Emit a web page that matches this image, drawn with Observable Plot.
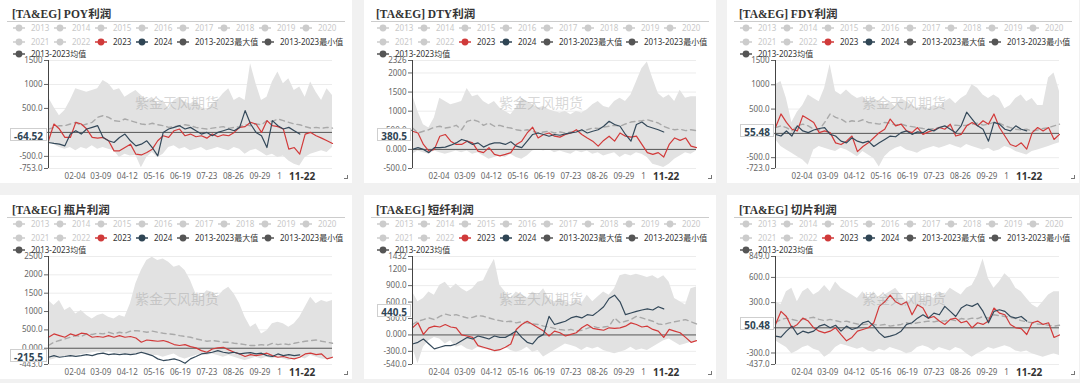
<!DOCTYPE html>
<html><head><meta charset="utf-8">
<script src="https://cdn.jsdelivr.net/npm/d3@7"></script>
<script src="https://cdn.jsdelivr.net/npm/@observablehq/plot@0.6"></script>
<style>
html,body{margin:0;padding:0;}
body{background:#f1f1f1;width:1080px;height:383px;overflow:hidden;position:relative;font-family:"Noto Sans","Noto Sans CJK SC",sans-serif;}
.panel{position:absolute;background:#fff;width:352px;height:184px;overflow:hidden;}
.title{position:absolute;left:12px;top:6px;font:bold 11.5px "Liberation Serif","Noto Sans CJK SC",serif;color:#333;white-space:nowrap;}
.uline{position:absolute;left:7px;width:338px;top:22px;border-top:1.5px solid #ccc;}
.lrow{position:absolute;left:13px;height:10px;display:flex;align-items:center;white-space:nowrap;z-index:3;font-size:8px;line-height:10px;}
.item{display:inline-flex;align-items:center;flex:none;}
.item svg{margin-right:6px;flex:none;}
.chart{position:absolute;left:0;top:49px;}
.wm{position:absolute;left:135px;top:93px;font-size:14px;color:rgba(150,150,150,0.38);white-space:nowrap;z-index:2;}
.ptr{position:absolute;height:11px;line-height:11px;padding:0 3px;background:#fff;border:1px solid #cfcfcf;font:bold 10px "Noto Sans",sans-serif;color:#2f4554;z-index:4;}
.corner{position:absolute;right:4px;bottom:4px;width:3px;height:3px;border-right:1px solid #777;border-bottom:1px solid #777;}
</style>
</head><body>
<script>
const days = [0,7,14,21,28,35,42,49,56,63,70,77,84,91,98,105,112,119,126,133,140,147,154,161,168,175,182,189,196,203,210,217,224,231,238,245,252,259,266,273,280,287,294,301,308,315,322,329,336,343,350,357,364];
const xTicks = [34,67,101,135,169,203,237,271,296];
const xTickLabels = ["02-04","03-09","04-12","05-16","06-19","07-23","08-26","09-29","1"];
const xBold = 325;
const xBoldLabel = "11-22";

// POY
const poyMax = [730,525,350,455,665,910,875,840,875,910,1085,1015,875,910,735,805,875,770,665,735,595,665,490,665,735,630,595,665,525,455,595,665,805,910,665,735,665,1430,1015,665,735,1050,1260,1015,1120,875,945,735,1050,840,665,910,770];
const poyMin = [-200,-250,-315,-350,-315,-385,-315,-350,-280,-350,-315,-350,-385,-525,-455,-490,-480,-735,-525,-420,-525,-455,-315,-280,-350,-315,-385,-350,-315,-385,-350,-315,-350,-385,-315,-350,-455,-385,-350,-420,-490,-455,-525,-490,-595,-665,-700,-525,-455,-420,-385,-420,-315];
const poyMean = [70,105,140,140,175,210,140,175,210,315,350,315,245,230,280,245,210,175,160,190,160,140,105,120,140,160,140,105,85,70,90,105,120,85,105,120,160,140,175,160,245,230,280,245,210,175,160,120,90,105,85,105,90];
const poy2023 = [-175,175,70,-105,-105,210,175,70,-105,-120,-105,-175,-385,-385,-315,-245,-455,-470,-420,-350,-175,-70,-105,35,70,-70,-35,-90,-70,-120,-35,-90,-50,-70,0,105,120,210,175,0,245,140,120,70,-350,-315,-455,-35,0,-70,-120,-175,-230];
const poy2024 = [-210,-230,-245,-280,-35,35,-35,70,105,140,-105,-175,-210,-105,-35,-175,-280,-245,-175,-315,-490,0,70,105,140,70,105,35,-35,0,-70,0,35,70,35,105,455,175,0,-70,-315,245,140,70,105,35,-35];
const poyTicks = [-753,-500,0,500,1000,1500];
const poyTickLabels = ["-753.0","-500.0","0.000","500.0","1000","1500"];

// DTY
const dtyMax = [1420,990,645,560,820,1335,1250,1165,1205,1250,1595,1380,1420,1250,1165,1250,1080,990,905,1080,1335,1250,1165,1080,1120,1035,990,950,990,905,990,950,1035,1165,1250,1120,1080,1250,1335,1250,1420,1765,2110,2285,1855,1465,1335,1420,1250,1550,1335,1380,1380];
const dtyMin = [-130,-45,-85,-130,-45,-85,-130,-85,-45,-85,-45,-130,-85,-170,-260,-215,-170,-215,-130,-215,-260,-170,-45,0,-45,0,-85,-45,-85,-130,-45,-85,-45,-130,-85,-170,-130,-85,-215,-130,-170,-85,-130,-215,-390,-430,-475,-390,-260,-170,-85,-130,-45];
const dtyMean = [560,430,475,515,580,605,560,580,630,515,735,775,735,630,690,605,630,580,560,515,490,515,475,430,455,475,430,455,430,455,475,490,515,560,545,580,605,630,605,665,715,735,750,775,735,690,605,545,515,530,490,515,490];
const dty2023 = [475,430,130,-45,0,345,390,215,130,130,215,170,-45,-85,45,-130,-170,-130,-85,130,215,430,580,300,390,430,345,320,390,430,515,390,300,215,85,235,345,215,430,345,320,345,130,-85,-130,-85,-200,130,300,235,300,85,45];
const dty2024 = [0,45,0,-85,45,45,60,110,170,260,215,130,170,60,130,170,170,130,200,85,45,215,390,430,390,345,390,370,405,430,455,515,430,475,515,605,735,650,605,390,215,650,715,605,560,515,455];
const dtyTicks = [-500,0,500,1000,1500,2000,2326];
const dtyTickLabels = ["-500.0","0.000","500.0","1000","1500","2000","2326"];

// FDY
const fdyMax = [1000,1070,720,225,435,575,790,720,650,930,1420,860,790,895,790,720,755,650,720,650,575,650,540,720,650,575,505,575,505,575,540,650,720,610,720,790,1000,930,790,720,790,720,505,575,720,790,650,720,575,575,1140,1245,860];
const fdyMin = [-125,-270,-340,-410,-480,-550,-655,-340,-270,-305,-340,-375,-305,-340,-410,-480,-375,-445,-515,-690,-480,-375,-305,-270,-340,-375,-410,-340,-305,-270,-305,-270,-230,-270,-305,-230,-270,-305,-340,-305,-375,-340,-270,-305,-375,-410,-445,-375,-340,-305,-270,-230,-195];
const fdyMean = [120,155,120,50,155,190,155,85,70,225,400,330,295,225,260,240,280,225,210,190,225,210,170,190,155,140,120,100,85,100,120,135,155,170,155,170,190,210,170,190,225,210,155,120,85,70,85,50,70,100,120,155,190];
const fdy2023 = [120,400,225,85,50,365,295,225,15,50,15,-195,-230,-160,-55,-375,-270,-195,-90,15,85,295,155,190,50,15,120,-20,30,70,120,85,190,-55,-20,155,225,155,260,190,400,120,-55,-230,-270,-195,-325,15,120,50,120,-125,-20];
const fdy2024 = [-20,-55,50,-55,155,50,15,70,100,120,-20,-55,-160,-195,-90,-160,-195,-160,-270,-195,-125,-55,-70,15,50,-20,30,15,85,50,120,155,85,15,155,435,295,155,85,-160,225,190,85,50,155,85,50];
const fdyTicks = [-723,-500,0,500,1000,1500];
const fdyTickLabels = ["-723.0","-500.0","0.000","500.0","1000","1500"];

// 瓶片
const botMax = [1300,1165,1300,1030,1120,935,1030,890,800,890,935,845,800,890,845,1210,1755,2120,2390,2480,2390,2435,2345,2210,2255,2120,1845,1480,1390,1570,1525,1390,1570,1665,1480,1210,845,575,665,390,480,665,710,665,575,665,845,1120,1390,1210,1300,1255,1300];
const botMin = [-335,-300,-250,-220,-250,-200,-180,-150,-120,-100,-120,-100,-130,-150,-150,-170,-150,-160,-180,-200,-200,-245,-200,-155,-245,-290,-245,-200,-155,-200,-155,-200,-245,-200,-245,-290,-335,-290,-245,-290,-245,-290,-245,-290,-335,-290,-245,-290,-200,-245,-290,-310,-290];
const botMean = [75,165,210,255,300,345,320,390,375,410,390,435,390,435,410,465,480,465,435,465,435,410,390,375,345,320,300,255,225,190,210,190,165,165,135,120,100,75,75,100,75,135,100,120,100,135,165,190,210,225,190,165,135];
const bot2023 = [300,390,345,300,390,345,410,390,300,320,300,345,300,345,300,320,280,165,225,210,190,210,165,100,75,100,45,10,-65,-110,-20,10,25,-45,-110,-155,-225,-175,-200,-175,-135,-200,-245,-225,-265,-290,-245,-155,-135,-175,-155,-290,-245];
const bot2024 = [-245,-200,-245,-225,-200,-220,-200,-175,-200,-155,-135,-175,-155,-175,-155,-175,-155,-110,-155,-200,-290,-335,-315,-290,-335,-410,-290,-225,-155,-135,-110,-65,-110,-135,-110,-155,-135,-120,-155,-135,-200,-225,-155,-200,-175,-200,-180];
const botTicks = [-443,0,500,1000,1500,2000,2500];
const botTickLabels = ["-443.0","0.000","500.0","1000","1500","2000","2500"];

// 短纤
const psfMax = [785,605,665,785,725,905,960,845,930,845,785,845,960,990,1200,1380,905,785,665,785,725,665,785,725,845,665,605,665,605,545,665,575,725,605,695,785,725,845,1080,1110,1080,1110,1080,1050,1080,1020,1080,960,665,605,545,845,875];
const psfMin = [-225,-525,-225,-105,-45,-75,-165,-105,-225,-195,-255,-285,-225,-260,-255,-320,-300,-225,-285,-315,-285,-225,-315,-285,-405,-345,-285,-225,-165,-195,-225,-285,-225,-255,-225,-285,-315,-345,-315,-285,-225,-285,-255,-285,-225,-165,-105,-75,-135,-195,-165,-135,-105];
const psfMean = [190,250,280,310,280,340,380,355,370,340,310,320,355,340,310,280,260,240,250,220,240,220,200,190,160,145,120,100,85,100,70,85,120,160,130,145,160,310,220,250,280,340,310,280,250,200,190,220,240,260,280,240,200];
const psf2023 = [130,220,10,130,160,145,190,145,130,0,-20,-45,-195,-225,-255,-285,-270,-225,-165,100,190,250,190,130,70,-20,70,40,-20,10,40,130,190,120,100,85,130,120,130,160,220,190,145,160,100,70,-45,100,70,40,-45,-135,-105];
const psf2024 = [-165,-135,-75,-165,-255,-225,-195,-195,-165,-105,-45,-75,-20,-45,-75,-20,-45,-45,10,70,-45,-135,-165,-45,10,340,190,220,250,310,340,310,370,355,430,515,665,725,605,370,400,430,455,475,455,515,475];
const psfTicks = [-540,-300,0,300,600,900,1200,1432];
const psfTickLabels = ["-540.0","-300.0","0.000","300.0","600.0","900.0","1200","1432"];

// 切片
const chipMax = [310,275,430,470,310,430,470,390,430,505,430,545,470,430,390,350,430,350,430,350,390,430,470,390,310,350,430,350,390,350,430,390,470,430,390,470,505,625,820,585,470,545,645,585,470,430,350,275,235,310,390,430,430];
const chipMin = [-155,-195,-235,-310,-275,-235,-215,-255,-275,-350,-310,-235,-195,-215,-235,-255,-235,-275,-290,-255,-275,-235,-255,-275,-310,-290,-235,-215,-235,-275,-235,-255,-275,-235,-255,-310,-350,-310,-275,-235,-255,-235,-215,-235,-275,-290,-275,-310,-330,-350,-330,-310,-330];
const chipMean = [60,100,115,100,85,100,115,125,100,85,100,85,70,80,60,45,40,45,40,30,40,20,30,40,60,45,60,70,80,70,85,80,100,85,110,100,115,110,135,115,155,145,135,125,110,85,70,60,45,40,30,20,30];
const chip2023 = [40,195,135,0,40,115,80,0,-40,-60,-40,0,-80,-155,-115,-40,-20,0,60,255,310,390,310,275,310,155,275,235,115,135,80,40,100,115,60,80,0,60,40,80,235,175,155,40,0,-10,-80,60,80,40,60,-115,-85];
const chip2024 = [-100,-110,-40,20,-80,-40,-60,-40,20,40,0,30,-40,20,-20,0,60,80,20,-60,-115,-100,-80,-40,40,60,115,155,115,175,155,255,195,135,235,275,255,290,195,60,195,215,195,135,115,135,80];
const chipTicks = [-437,-300,0,300,600,849];
const chipTickLabels = ["-437.0","-300.0","0.000","300.0","600.0","849.0"];

const titles = ["[TA&EG] POY利润","[TA&EG] DTY利润","[TA&EG] FDY利润","[TA&EG] 瓶片利润","[TA&EG] 短纤利润","[TA&EG] 切片利润"];
const pointerValues = [-64.52, 380.5, 55.48, -215.5, 440.5, 50.48];
const pointerLabels = ["-64.52","380.5","55.48","-215.5","440.5","50.48"];
const legendRows = [
  [["2013",0],["2014",0],["2015",0],["2016",0],["2017",0],["2018",0],["2019",0],["2020",0]],
  [["2021",0],["2022",0],["2023",1],["2024",2],["2013-2023最大值",3],["2013-2023最小值",3]],
  [["2013-2023均值",3]]
];
const watermark = "紫金天风期货";

const series = [
  {max:poyMax,min:poyMin,mean:poyMean,a:poy2023,b:poy2024,ticks:poyTicks,labels:poyTickLabels},
  {max:dtyMax,min:dtyMin,mean:dtyMean,a:dty2023,b:dty2024,ticks:dtyTicks,labels:dtyTickLabels},
  {max:fdyMax,min:fdyMin,mean:fdyMean,a:fdy2023,b:fdy2024,ticks:fdyTicks,labels:fdyTickLabels},
  {max:botMax,min:botMin,mean:botMean,a:bot2023,b:bot2024,ticks:botTicks,labels:botTickLabels},
  {max:psfMax,min:psfMin,mean:psfMean,a:psf2023,b:psf2024,ticks:psfTicks,labels:psfTickLabels},
  {max:chipMax,min:chipMin,mean:chipMean,a:chip2023,b:chip2024,ticks:chipTicks,labels:chipTickLabels}
];

// layout (positions only)
const layout = [[0,-1],[364,-1],[727,-1],[0,195],[364,195],[727,195]];
const legendColors = ["#cccccc","#d03a3a","#2f4554","#555555"];
const textColors = ["#c8c8c8","#333","#333","#333"];

function legendIcon(c){
  return `<svg width="12" height="8"><line x1="0" x2="12" y1="4" y2="4" stroke="${c}" stroke-width="1.5"/><circle cx="6" cy="4" r="3.4" fill="${c}"/></svg>`;
}

series.forEach((s, k) => {
  const [px, py] = layout[k];
  const panel = document.createElement("div");
  panel.className = "panel";
  panel.style.left = px + "px";
  panel.style.top = py + "px";
  document.body.appendChild(panel);

  panel.insertAdjacentHTML("beforeend", `<div class="title">${titles[k]}</div><div class="uline"></div>`);
  const rowTops = [24, 37.5, 50];
  legendRows.forEach((row, r) => {
    const div = document.createElement("div");
    div.className = "lrow";
    div.style.top = rowTops[r] + "px";
    div.innerHTML = row.map(([t, c]) => `<span class="item" style="color:${textColors[c]};width:${t.length > 4 ? 85 : 41}px">${legendIcon(legendColors[c])}${t}</span>`).join("");
    panel.appendChild(div);
  });

  const lo = s.ticks[0], hi = s.ticks[s.ticks.length - 1];
  const rows = days.map((d, i) => ({d, hi: s.max[i], lo: s.min[i], mean: s.mean[i], a: s.a[i], b: i < s.b.length ? s.b[i] : NaN}));
  const rowsB = rows.filter(r => !isNaN(r.b));

  const plot = Plot.plot({
    width: 352, height: 134,
    marginLeft: 48, marginRight: 20, marginTop: 12, marginBottom: 14,
    style: {fontFamily: '"Noto Sans","Noto Sans CJK SC",sans-serif', fontSize: "8px", color: "#666", background: "transparent", overflow: "visible"},
    x: {domain: [0, 364]},
    y: {domain: [lo, hi]},
    marks: [
      Plot.ruleY(s.ticks, {stroke: "#ececec"}),
      Plot.areaY(rows, {x: "d", y1: "lo", y2: "hi", fill: "#e2e2e2"}),
      Plot.line(rows, {x: "d", y: "mean", stroke: "#a9a9a9", strokeWidth: 1.4, strokeDasharray: "5,4"}),
      Plot.ruleY([0], {stroke: "#555", strokeWidth: 1}),
      Plot.line(rows, {x: "d", y: "a", stroke: "#d23a3a", strokeWidth: 1.2}),
      Plot.line(rowsB, {x: "d", y: "b", stroke: "#34495a", strokeWidth: 1.2}),
      Plot.ruleX([0], {y1: lo, y2: hi, stroke: "#444"}),
      Plot.axisY(s.ticks, {tickFormat: d => s.labels[s.ticks.indexOf(d)], tickSize: 4, tickPadding: 2, fontSize: 8, color: "#666", label: null}),
      Plot.axisX(xTicks, {tickFormat: d => xTickLabels[xTicks.indexOf(d)], tickSize: 0, tickPadding: 5, fontSize: 8, color: "#666", label: null}),
      Plot.axisX([xBold], {tickFormat: () => xBoldLabel, tickSize: 0, tickPadding: 4, fontSize: 10, fontWeight: "bold", color: "#333", label: null})
    ]
  });
  const wrap = document.createElement("div");
  wrap.className = "chart";
  wrap.appendChild(plot);
  panel.appendChild(wrap);

  panel.insertAdjacentHTML("beforeend", `<div class="wm">${watermark}</div><div class="corner"></div>`);

  const yScale = plot.scale("y");
  const yPix = yScale.apply ? yScale.apply(pointerValues[k]) : d3.scaleLinear(yScale.domain, yScale.range)(pointerValues[k]);
  const box = document.createElement("div");
  box.className = "ptr";
  box.textContent = pointerLabels[k];
  box.style.right = (352 - 47) + "px";
  box.style.top = (49 + yPix - 6.5) + "px";
  panel.appendChild(box);
});
</script>
</body></html>
